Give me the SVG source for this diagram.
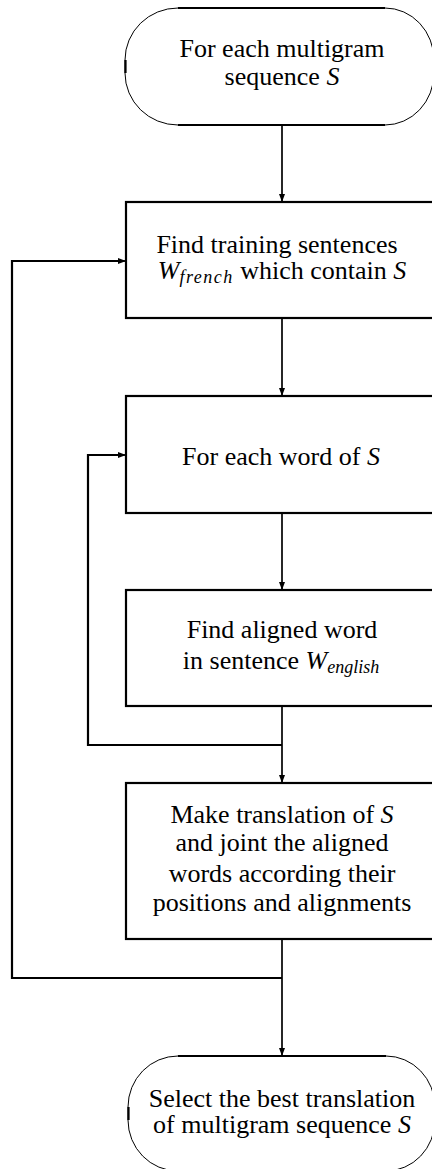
<svg xmlns="http://www.w3.org/2000/svg" width="432" height="1169" viewBox="0 0 432 1169">
<style>
  .box { fill: #fff; stroke: #000; stroke-width: 2.2; }
  .arc { fill: none; stroke: #000; stroke-width: 1; }
  .hl { fill: none; stroke: #000; stroke-width: 2.2; }
  .conn { fill: none; stroke: #000; stroke-width: 1.7; }
  .loop { fill: none; stroke: #000; stroke-width: 2.2; }
  .t { font-size: 26px; fill: #000; text-anchor: middle; }
  .m { font-style: italic; }
  .sub { font-style: italic; font-size: 18px; }
</style>
<defs>
  <marker id="arr" markerUnits="userSpaceOnUse" markerWidth="8" markerHeight="10" refX="8" refY="3" orient="auto">
    <path d="M0,0 L8,3 L0,6 Z" fill="#000"/>
  </marker>
</defs>

<g id="connectors">
  <line class="conn" x1="282" y1="125" x2="282" y2="202" marker-end="url(#arr)"/>
  <line class="conn" x1="282" y1="318" x2="282" y2="396" marker-end="url(#arr)"/>
  <line class="conn" x1="282" y1="513" x2="282" y2="590" marker-end="url(#arr)"/>
  <line class="conn" x1="282" y1="706" x2="282" y2="783" marker-end="url(#arr)"/>
  <polyline class="loop" points="282,745 88,745 88,455 120,455"/>
  <line class="conn" x1="119" y1="455" x2="126" y2="455" marker-end="url(#arr)"/>
  <line class="conn" x1="282" y1="939" x2="282" y2="1056" marker-end="url(#arr)"/>
  <polyline class="loop" points="282,978 12,978 12,261 120,261"/>
  <line class="conn" x1="119" y1="261" x2="126" y2="261" marker-end="url(#arr)"/>
</g>

<g font-family="Liberation Serif, Times New Roman, DejaVu Serif, serif">
<g id="start">
  <path d="M178,8 H385 A49,52 0 0 1 434,60 V73 A49,52 0 0 1 385,125 H178 A53,52 0 0 1 125,73 V60 A53,52 0 0 1 178,8 Z" fill="#fff" stroke="none"/>
  <path class="arc" d="M385,8 A49,52 0 0 1 434,60 V73 A49,52 0 0 1 385,125"/>
  <path class="arc" d="M178,125 A53,52 0 0 1 125,73 V60 A53,52 0 0 1 178,8"/>
  <line class="hl" x1="178" y1="8" x2="385" y2="8"/>
  <line class="hl" x1="178" y1="125" x2="385" y2="125"/>
  <line class="hl" x1="125.5" y1="60" x2="125.5" y2="73"/>
  <text class="t" x="282" y="57">For each multigram</text>
  <text class="t" x="282" y="85">sequence <tspan class="m">S</tspan></text>
</g>

<g id="find-sentences">
  <rect class="box" x="126" y="202" width="312" height="116"/>
  <text class="t" x="277" y="253">Find training sentences</text>
  <text class="t" x="282" y="279"><tspan class="m">W</tspan><tspan class="sub" dy="4" letter-spacing="1.5">french</tspan><tspan dy="-4"> which contain </tspan><tspan class="m">S</tspan></text>
</g>

<g id="each-word">
  <rect class="box" x="126" y="396" width="312" height="117"/>
  <text class="t" x="281" y="465">For each word of <tspan class="m">S</tspan></text>
</g>

<g id="find-aligned">
  <rect class="box" x="126" y="590" width="312" height="116"/>
  <text class="t" x="282" y="638">Find aligned word</text>
  <text class="t" x="281" y="669">in sentence <tspan class="m">W</tspan><tspan class="sub" dy="4">english</tspan></text>
</g>

<g id="make-translation">
  <rect class="box" x="126" y="783" width="312" height="156"/>
  <text class="t" x="282" y="823">Make translation of <tspan class="m">S</tspan></text>
  <text class="t" x="282" y="851">and joint the aligned</text>
  <text class="t" x="282" y="882">words according their</text>
  <text class="t" x="282" y="911">positions and alignments</text>
</g>

<g id="select-best">
  <path d="M178,1056 H386 A49,51 0 0 1 435,1107 V1120 A49,51 0 0 1 386,1171 H178 A50,51 0 0 1 128,1120 V1107 A50,51 0 0 1 178,1056 Z" fill="#fff" stroke="none"/>
  <path class="arc" d="M386,1056 A49,51 0 0 1 435,1107 V1120 A49,51 0 0 1 386,1171"/>
  <path class="arc" d="M178,1171 A50,51 0 0 1 128,1120 V1107 A50,51 0 0 1 178,1056"/>
  <line class="hl" x1="178" y1="1056" x2="386" y2="1056"/>
  <line class="hl" x1="128.5" y1="1107" x2="128.5" y2="1120"/>
  <text class="t" x="282" y="1107">Select the best translation</text>
  <text class="t" x="282" y="1133">of multigram sequence <tspan class="m">S</tspan></text>
</g>
</g>
</svg>
